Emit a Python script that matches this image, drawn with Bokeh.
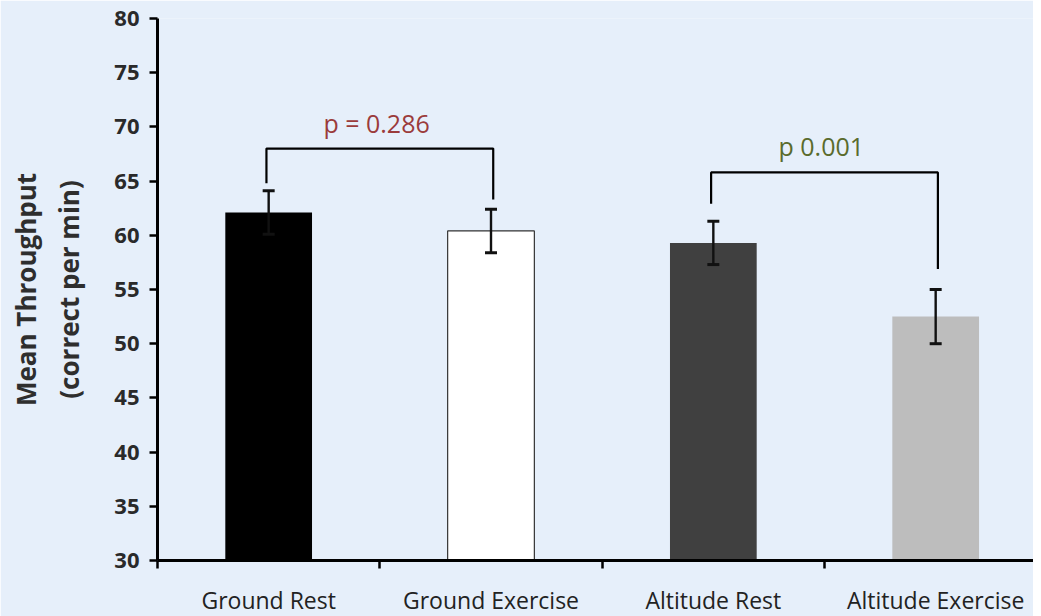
from bokeh.plotting import figure
from bokeh.models import ColumnDataSource, Whisker, TeeHead, FixedTicker, Range1d
from bokeh.core.properties import value
from bokeh.embed import file_html
from bokeh.resources import INLINE

# ---- data ----
categories = ["Ground Rest", "Ground Exercise", "Altitude Rest", "Altitude Exercise"]
means = [62.1, 60.4, 59.3, 52.5]
errors = [2.0, 2.0, 2.0, 2.5]
bar_colors = ["#000000", "#ffffff", "#404040", "#bdbdbd"]
bar_outlines = [None, "#333333", None, None]

# significance brackets: left bar index, right bar index, top, left foot, right foot
bracket_left = [0, 2]
bracket_right = [1, 3]
bracket_top = [68.0, 65.8]
bracket_left_foot = [64.8, 62.9]
bracket_right_foot = [63.3, 56.9]
p_labels = ["p  = 0.286", "p  0.001"]
p_label_y = [70.4, 68.2]
p_colors = ["#9b3b3b", "#5a6b2c"]

y_ticks = list(range(30, 81, 5))

# ---- figure ----
bg = "#e6effa"
p = figure(frame_width=876, frame_height=542, output_backend="svg", toolbar_location=None,
           x_range=Range1d(0, 3.94), y_range=Range1d(30, 80),
           background_fill_color=bg, border_fill_color=bg,
           min_border_left=157, min_border_right=0, min_border_top=18, min_border_bottom=50)
p.outline_line_color = None
p.grid.visible = False

xc = [i + 0.5 for i in range(len(categories))]
src = ColumnDataSource(dict(x=xc, top=means, color=bar_colors,
                            line=[c if c else "rgba(0,0,0,0)" for c in bar_outlines],
                            upper=[m + e for m, e in zip(means, errors)],
                            lower=[m - e for m, e in zip(means, errors)]))
p.vbar(x="x", top="top", bottom=30, width=0.39, fill_color="color",
       line_color="line", line_width=1.2, source=src)

wh = Whisker(base="x", upper="upper", lower="lower", source=src, level="overlay",
             line_color="#111111", line_width=2.4,
             upper_head=TeeHead(size=12, line_width=3, line_color="#111111"),
             lower_head=TeeHead(size=12, line_width=3, line_color="#111111"))
p.add_layout(wh)

# brackets
for li, ri, top, lf, rf in zip(bracket_left, bracket_right, bracket_top, bracket_left_foot, bracket_right_foot):
    xl = li + 0.5 - 0.01
    xr = ri + 0.5 + 0.01
    p.line(x=[xl, xl, xr, xr], y=[lf, top, top, rf], line_color="#000000", line_width=2.2)

px = [(l + r) / 2 + 0.5 for l, r in zip(bracket_left, bracket_right)]
p.text(x=px, y=p_label_y, text=p_labels, text_color=p_colors,
       text_font=value("Open Sans"), text_font_size="25px",
       text_align="center", text_baseline="middle")

# axes
p.yaxis.ticker = FixedTicker(ticks=y_ticks)
p.yaxis.axis_line_width = 3
p.yaxis.axis_line_color = "#000000"
p.yaxis.major_tick_line_width = 2.5
p.yaxis.major_tick_out = 8
p.yaxis.major_tick_in = 0
p.yaxis.minor_tick_line_color = None
p.yaxis.major_label_text_font = "Open Sans"
p.yaxis.major_label_text_font_style = "bold"
p.yaxis.major_label_text_font_size = "22px"
p.yaxis.major_label_text_color = "#2a2a2a"
p.yaxis.major_label_standoff = 10
p.yaxis.axis_label = "Mean Throughput\n(correct per min)"
p.yaxis.axis_label_text_font = "Open Sans"
p.yaxis.axis_label_text_font_style = "bold"
p.yaxis.axis_label_text_font_size = "26px"
p.yaxis.axis_label_text_color = "#2e2e2e"
p.yaxis.axis_label_standoff = 24

p.xaxis.ticker = FixedTicker(ticks=xc, minor_ticks=[0, 1, 2, 3])
p.xaxis.major_label_overrides = {x: c for x, c in zip(xc, categories)}
p.xaxis.axis_line_width = 3
p.xaxis.axis_line_color = "#000000"
p.xaxis.major_tick_line_color = None
p.xaxis.major_tick_out = 0
p.xaxis.major_tick_in = 0
p.xaxis.minor_tick_line_width = 2.5
p.xaxis.minor_tick_line_color = "#000000"
p.xaxis.minor_tick_out = 8
p.xaxis.minor_tick_in = 0
p.xaxis.major_label_text_font = "Open Sans"
p.xaxis.major_label_text_font_size = "23px"
p.xaxis.major_label_text_color = "#222222"
p.xaxis.major_label_standoff = 15

open("out.html", "w").write(file_html(p, INLINE))
